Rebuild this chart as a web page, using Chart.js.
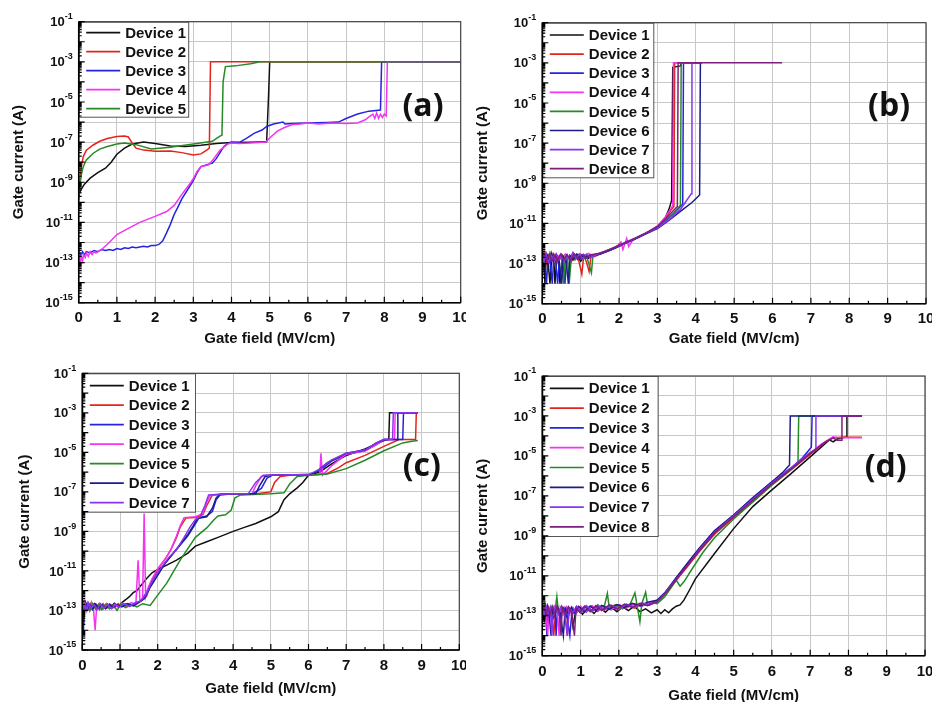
<!DOCTYPE html>
<html>
<head>
<meta charset="utf-8">
<script src="https://cdn.jsdelivr.net/npm/chart.js@4.4.1/dist/chart.umd.min.js"></script>
<style>
html, body { margin: 0; padding: 0; background: #fff; overflow: hidden; }
#wrap { position: relative; width: 932px; height: 702px; overflow: hidden; }
canvas { position: absolute; }
</style>
</head>
<body>
<div id="wrap">
  <canvas id="cA" width="466" height="352" style="left:0;top:0;width:466px;height:352px"></canvas>
  <canvas id="cB" width="466" height="352" style="left:466px;top:0;width:466px;height:352px"></canvas>
  <canvas id="cC" width="466" height="350" style="left:0;top:352px;width:466px;height:350px"></canvas>
  <canvas id="cD" width="466" height="356" style="left:466px;top:352px;width:466px;height:356px"></canvas>
</div>
<script>
// legend names / colours shared by all panels
var deviceNames = ['Device 1', 'Device 2', 'Device 3', 'Device 4', 'Device 5', 'Device 6', 'Device 7', 'Device 8'];
var deviceColors = ['#111111', '#e3241b', '#2424e0', '#f433f4', '#268a26', '#1c1c8a', '#8a33f0', '#7d1e7d'];
var yTickValues = [1e-15, 1e-14, 1e-13, 1e-12, 1e-11, 1e-10, 1e-9, 1e-8, 1e-7, 1e-6, 1e-5, 1e-4, 1e-3, 1e-2, 1e-1];

// (a) gate current vs gate field, [field MV/cm, current A]
var a1 = [[0,2e-10],[0.05,4e-10],[0.15,8e-10],[0.3,1.6e-9],[0.5,3e-9],[0.7,5e-9],[0.85,1e-8],[1.0,2.5e-8],[1.2,5e-8],[1.4,8e-8],[1.7,1e-7],[2.0,8.5e-8],[2.4,6.5e-8],[2.8,6e-8],[3.2,7e-8],[3.6,8.5e-8],[4.0,9.5e-8],[4.5,1e-7],[4.92,1.05e-7],[4.97,2e-5],[5.0,1e-3],[10,1e-3]];
var a2 = [[0,3e-10],[0.04,2e-9],[0.08,8e-9],[0.12,1.9e-8],[0.2,4e-8],[0.38,7.2e-8],[0.55,1.1e-7],[0.75,1.5e-7],[1.0,1.9e-7],[1.2,2e-7],[1.3,1.8e-7],[1.4,9e-8],[1.5,5e-8],[1.7,4e-8],[2.0,3.5e-8],[2.4,3.6e-8],[2.7,3e-8],[3.0,2.3e-8],[3.2,2.6e-8],[3.35,4e-8],[3.42,5e-8],[3.45,1e-3],[10,1e-3]];
var a3 = [[0,1.5e-13],[0.03,3e-13],[0.06,2e-13],[0.1,3.5e-13],[0.15,2.5e-13],[0.2,3.5e-13],[0.3,3e-13],[0.4,4e-13],[0.5,3.5e-13],[0.6,4.5e-13],[0.7,4e-13],[0.8,4.5e-13],[0.9,4e-13],[1.0,5e-13],[1.1,4.5e-13],[1.2,5.5e-13],[1.3,5e-13],[1.4,6e-13],[1.5,5.5e-13],[1.6,6e-13],[1.7,6.5e-13],[1.8,6e-13],[1.9,7e-13],[2.0,7e-13],[2.1,8e-13],[2.2,1.2e-12],[2.3,3e-12],[2.4,8e-12],[2.5,2.5e-11],[2.6,6e-11],[2.7,1.5e-10],[2.8,3e-10],[2.9,6e-10],[3.0,1.2e-9],[3.1,3e-9],[3.2,6e-9],[3.4,8e-9],[3.5,9e-9],[3.6,1.5e-8],[3.7,3e-8],[3.8,6e-8],[3.9,8.5e-8],[4.0,1e-7],[4.2,9.5e-8],[4.4,1.6e-7],[4.6,2.8e-7],[4.8,4e-7],[4.92,6e-7],[5.1,8e-7],[5.35,1e-6],[5.4,8e-7],[5.6,8.5e-7],[6.0,9e-7],[6.5,9.5e-7],[6.8,1e-6],[7.0,1.5e-6],[7.3,2.5e-6],[7.6,3.5e-6],[7.9,4e-6],[7.93,1e-3],[10,1e-3]];
var a4 = [[0,5e-14],[0.02,1.5e-13],[0.04,8e-14],[0.07,2e-13],[0.1,1.2e-13],[0.13,2.5e-13],[0.17,1.8e-13],[0.2,3e-13],[0.25,2e-13],[0.3,3.5e-13],[0.35,2.5e-13],[0.4,3.5e-13],[0.45,3e-13],[0.5,3.5e-13],[0.6,4.5e-13],[0.8,1e-12],[1.0,2.5e-12],[1.3,5e-12],[1.6,1e-11],[2.0,2e-11],[2.3,3.5e-11],[2.5,7e-11],[2.7,2.5e-10],[2.9,8e-10],[3.0,1.5e-9],[3.1,3.5e-9],[3.2,6e-9],[3.4,7.5e-9],[3.5,1.2e-8],[3.7,4e-8],[3.9,8e-8],[4.0,9e-8],[4.2,8.5e-8],[4.5,9e-8],[4.9,1e-7],[5.0,1.6e-7],[5.2,3.5e-7],[5.4,5.5e-7],[5.6,7.5e-7],[5.8,8e-7],[6.0,9e-7],[6.3,8e-7],[6.6,9e-7],[7.0,8.5e-7],[7.3,9e-7],[7.5,1.3e-6],[7.6,1.8e-6],[7.7,2.5e-6],[7.75,1.5e-6],[7.8,2.8e-6],[7.85,1.5e-6],[7.9,2.5e-6],[7.95,1.7e-6],[8.0,2.5e-6],[8.05,2e-6],[8.08,1e-3],[10,1e-3]];
var a5 = [[0,1.3e-10],[0.04,1e-9],[0.08,3e-9],[0.12,6e-9],[0.2,1.3e-8],[0.38,2.8e-8],[0.55,4.5e-8],[0.75,6e-8],[1.0,8e-8],[1.2,9e-8],[1.5,7.5e-8],[1.9,4.5e-8],[2.4,5.5e-8],[3.0,8e-8],[3.5,1.1e-7],[3.6,1.5e-7],[3.7,2e-7],[3.75,2.2e-7],[3.78,1e-4],[3.84,5.8e-4],[4.1,6.3e-4],[4.5,8e-4],[4.75,1e-3],[10,1e-3]];

// (b)
var b1 = [[0,2e-13],[0.04,8e-14],[0.07,1e-14],[0.1,2.5e-13],[0.15,1.2e-13],[0.2,1e-14],[0.25,3e-13],[0.3,1.5e-13],[0.33,1e-14],[0.38,2e-13],[0.43,1e-13],[0.46,1e-14],[0.52,2.5e-13],[0.6,1.2e-13],[0.7,2e-13],[0.8,1.5e-13],[0.9,2.5e-13],[1.0,1.3e-13],[1.1,2.2e-13],[1.2,1.8e-13],[1.3,2.5e-13],[1.5,3e-13],[1.8,5e-13],[2.0,8e-13],[2.2,1.1e-12],[2.5,2e-12],[2.8,4e-12],[3.0,7e-12],[3.2,1.8e-11],[3.3,5e-11],[3.37,1.4e-10],[3.4,6e-4],[3.6,7e-4],[3.62,1e-3],[4.15,1e-3]];
var b2 = [[0,1.5e-13],[0.05,3e-13],[0.1,1e-13],[0.16,2.5e-13],[0.22,1.5e-13],[0.3,3e-13],[0.38,1.2e-13],[0.45,2.5e-13],[0.55,1.5e-13],[0.65,2.8e-13],[0.75,1.2e-13],[0.85,2.5e-13],[0.95,1.4e-13],[1.03,3e-14],[1.08,2.5e-13],[1.15,1.2e-13],[1.22,4e-14],[1.27,2.5e-13],[1.35,2.2e-13],[1.6,3.5e-13],[1.9,6e-13],[2.2,1.1e-12],[2.5,2e-12],[2.8,4e-12],[3.0,7e-12],[3.2,1.7e-11],[3.35,4.5e-11],[3.43,7e-11],[3.45,1e-3],[4.15,1e-3]];
var b3 = [[0,1e-13],[0.03,2.5e-13],[0.06,1.2e-13],[0.11,1e-14],[0.15,2e-13],[0.2,1.5e-13],[0.26,1e-14],[0.3,2.5e-13],[0.35,1.3e-13],[0.4,1e-14],[0.45,2e-13],[0.52,1.5e-13],[0.59,1e-14],[0.64,2.5e-13],[0.72,1.5e-13],[0.82,2.8e-13],[0.92,1.6e-13],[1.02,2.5e-13],[1.12,1.8e-13],[1.25,2.6e-13],[1.5,3e-13],[1.8,5e-13],[2.1,9e-13],[2.4,1.7e-12],[2.7,3.2e-12],[3.0,6.5e-12],[3.2,1.3e-11],[3.4,2.8e-11],[3.55,5.5e-11],[3.66,9e-11],[3.68,1e-3],[4.15,1e-3]];
var b4 = [[0,3e-13],[0.05,1.5e-13],[0.1,3.5e-13],[0.17,1.8e-13],[0.25,3e-13],[0.32,1.5e-13],[0.4,2.5e-13],[0.5,1.7e-13],[0.6,3e-13],[0.7,1.6e-13],[0.8,3.5e-13],[0.9,2e-13],[1.0,3e-13],[1.1,2e-13],[1.2,3.2e-13],[1.35,2.4e-13],[1.5,3.5e-13],[1.7,4e-13],[1.9,6e-13],[2.05,1.2e-12],[2.1,5e-13],[2.2,1.8e-12],[2.25,7e-13],[2.35,1.4e-12],[2.5,2e-12],[2.8,4e-12],[3.0,7.5e-12],[3.2,2e-11],[3.35,5.5e-11],[3.4,8e-11],[3.42,1e-3],[4.15,1e-3]];
var b5 = [[0,2e-13],[0.05,1.2e-13],[0.1,3e-13],[0.15,1.6e-13],[0.2,3.5e-13],[0.27,1.4e-13],[0.35,2.6e-13],[0.42,1.5e-13],[0.5,2.5e-13],[0.55,1e-14],[0.6,2e-13],[0.66,1.5e-13],[0.7,1e-14],[0.76,2.4e-13],[0.85,1.5e-13],[0.95,2.8e-13],[1.05,1.6e-13],[1.15,2.5e-13],[1.28,3.5e-14],[1.32,2.5e-13],[1.6,3.5e-13],[1.9,6e-13],[2.2,1.1e-12],[2.5,2e-12],[2.8,3.8e-12],[3.0,6.5e-12],[3.2,1.4e-11],[3.4,3e-11],[3.6,8e-11],[3.62,1e-3],[4.15,1e-3]];
var b6 = [[0,1.5e-13],[0.04,3e-13],[0.08,1.2e-13],[0.13,2.5e-13],[0.18,1.3e-13],[0.24,3e-13],[0.3,1.5e-13],[0.37,2.8e-13],[0.44,1.2e-13],[0.5,1e-14],[0.55,2.2e-13],[0.62,1.3e-13],[0.68,1e-14],[0.72,2.5e-13],[0.8,1.6e-13],[0.9,3e-13],[1.0,1.8e-13],[1.1,2.6e-13],[1.2,2e-13],[1.5,3e-13],[1.8,5e-13],[2.1,9e-13],[2.4,1.6e-12],[2.7,3e-12],[3.0,5.5e-12],[3.3,1.4e-11],[3.6,4e-11],[3.9,1.1e-10],[4.1,2.6e-10],[4.12,1e-3],[4.15,1e-3]];
var b7 = [[0,2.5e-13],[0.05,1.4e-13],[0.1,2.8e-13],[0.16,1.2e-13],[0.23,2.5e-13],[0.3,1.6e-13],[0.36,3e-13],[0.43,1.5e-13],[0.5,2.7e-13],[0.57,1.3e-13],[0.65,2.5e-13],[0.73,1.5e-13],[0.8,3.5e-13],[0.88,1.8e-13],[0.97,3e-13],[1.05,1.7e-13],[1.15,3e-13],[1.25,2e-13],[1.5,3.2e-13],[1.8,5.5e-13],[2.1,9e-13],[2.4,1.7e-12],[2.7,3.2e-12],[3.0,6e-12],[3.3,1.5e-11],[3.6,5e-11],[3.88,3e-10],[3.9,1e-3],[4.15,1e-3]];
var b8 = [[0,1.8e-13],[0.06,3e-13],[0.12,1.5e-13],[0.18,2.8e-13],[0.25,1.3e-13],[0.33,2.6e-13],[0.4,1.5e-13],[0.48,3e-13],[0.56,1.6e-13],[0.64,2.7e-13],[0.74,1.5e-13],[0.84,3e-13],[0.94,1.7e-13],[1.04,2.8e-13],[1.14,1.9e-13],[1.24,2.7e-13],[1.5,3.3e-13],[1.8,5.5e-13],[2.1,1e-12],[2.4,1.8e-12],[2.7,3.4e-12],[3.0,7e-12],[3.2,1.6e-11],[3.4,4e-11],[3.52,7e-11],[3.54,1e-3],[6.25,1e-3]];

// (c)
var c1 = [[0,2e-13],[0.04,1e-13],[0.08,2.5e-13],[0.13,1.2e-13],[0.18,2e-13],[0.25,1.3e-13],[0.32,2.2e-13],[0.4,1.4e-13],[0.48,2e-13],[0.56,1.3e-13],[0.65,2.2e-13],[0.75,1.5e-13],[0.85,2.3e-13],[0.95,1.6e-13],[1.05,2.5e-13],[1.15,3.5e-13],[1.25,5e-13],[1.35,8e-13],[1.45,1e-12],[1.55,1.8e-12],[1.7,4e-12],[1.85,8e-12],[2.0,1.2e-11],[2.2,1.8e-11],[2.5,3.5e-11],[2.8,8e-11],[3.0,1.8e-10],[3.3,3e-10],[3.6,5e-10],[4.0,1e-9],[4.3,1.6e-9],[4.6,2.5e-9],[5.0,5.5e-9],[5.2,1e-8],[5.35,4e-8],[5.5,8e-8],[5.7,1.6e-7],[5.85,3e-7],[6.0,7e-7],[6.3,1e-6],[6.6,2.5e-6],[7.0,7e-6],[7.5,1.5e-5],[8.0,4e-5],[8.13,4.5e-5],[8.15,1e-3],[8.9,1e-3]];
var c2 = [[0,1.5e-13],[0.03,2.5e-13],[0.07,1e-13],[0.12,2e-13],[0.17,1.2e-13],[0.23,2.3e-13],[0.3,1.3e-13],[0.38,2e-13],[0.46,1.1e-13],[0.55,2.2e-13],[0.65,1.3e-13],[0.75,2e-13],[0.85,1.4e-13],[0.95,2.2e-13],[1.05,1.6e-13],[1.15,2.2e-13],[1.3,1.8e-13],[1.45,2.5e-13],[1.55,3e-13],[1.7,5e-13],[1.85,3e-12],[2.0,1.2e-11],[2.2,4e-11],[2.35,1.2e-10],[2.5,5e-10],[2.6,1.7e-9],[2.75,4.8e-9],[3.0,5e-9],[3.2,7e-9],[3.3,2e-8],[3.45,7e-8],[4.0,8e-8],[4.5,7.5e-8],[5.0,1e-7],[5.1,3e-7],[5.25,6e-7],[5.5,7e-7],[6.0,7e-7],[6.5,8.5e-7],[6.8,1.7e-6],[7.0,3e-6],[7.5,7e-6],[8.0,2e-5],[8.4,4.5e-5],[8.84,4.5e-5],[8.86,1e-3],[8.9,1e-3]];
var c3 = [[0,1e-13],[0.03,1e-14],[0.06,2e-13],[0.1,1.2e-13],[0.15,2.5e-13],[0.22,1.3e-13],[0.3,2e-13],[0.38,1.1e-13],[0.47,2.2e-13],[0.56,1.3e-13],[0.66,2.1e-13],[0.76,1.4e-13],[0.86,2.2e-13],[0.96,1.5e-13],[1.1,2e-13],[1.25,1.6e-13],[1.4,2.4e-13],[1.55,3e-13],[1.7,8e-13],[1.85,3e-12],[2.0,8e-12],[2.2,2.5e-11],[2.5,1.2e-10],[2.8,6e-10],[2.95,1.7e-9],[3.1,5e-9],[3.3,6e-9],[3.45,1e-8],[3.55,4e-8],[3.65,7e-8],[4.0,8e-8],[4.5,8e-8],[4.75,1.5e-7],[4.9,5e-7],[5.05,7e-7],[6.0,7e-7],[6.3,1.2e-6],[6.6,3.5e-6],[7.0,8e-6],[7.5,1.2e-5],[7.8,2.5e-5],[8.0,4.5e-5],[8.5,4.5e-5],[8.52,1e-3],[8.9,1e-3]];
var c4 = [[0,2e-13],[0.03,8e-14],[0.06,2.5e-13],[0.1,1.2e-13],[0.15,2.2e-13],[0.2,1e-13],[0.25,2.5e-13],[0.3,1e-13],[0.34,1e-14],[0.38,1.5e-13],[0.45,2.3e-13],[0.55,1.2e-13],[0.65,2.2e-13],[0.75,1.3e-13],[0.85,2e-13],[0.95,1.5e-13],[1.05,2.3e-13],[1.15,1.6e-13],[1.3,2.5e-13],[1.42,2e-13],[1.48,3.5e-11],[1.53,3e-13],[1.6,4e-13],[1.64,8e-9],[1.68,5e-13],[1.75,1.5e-12],[1.85,4e-12],[2.0,1.3e-11],[2.2,4e-11],[2.35,1.2e-10],[2.5,6e-10],[2.6,2e-9],[2.7,5e-9],[3.0,5.5e-9],[3.2,8e-9],[3.3,3e-8],[3.4,7e-8],[3.8,8e-8],[4.5,8e-8],[4.6,2e-7],[4.75,6e-7],[4.9,7e-7],[6.0,7e-7],[6.3,7.5e-7],[6.33,9e-6],[6.37,7e-7],[6.6,2e-6],[7.0,8e-6],[7.5,1.2e-5],[7.8,2.5e-5],[8.0,4.5e-5],[8.28,4.5e-5],[8.3,1e-3],[8.9,1e-3]];
var c5 = [[0,1.5e-13],[0.04,2.5e-13],[0.08,1.2e-13],[0.13,2e-13],[0.2,1e-13],[0.27,2.2e-13],[0.35,1.2e-13],[0.43,2e-13],[0.52,1.1e-13],[0.62,2e-13],[0.72,1.2e-13],[0.82,1.9e-13],[0.92,1e-13],[1.02,2e-13],[1.15,1.4e-13],[1.3,2e-13],[1.45,1.5e-13],[1.6,2.2e-13],[1.8,1.8e-13],[2.0,6e-13],[2.24,2.4e-12],[2.6,3.6e-11],[3.0,5e-10],[3.3,1.5e-9],[3.5,4e-9],[3.6,6e-9],[3.8,7e-9],[3.95,1.2e-8],[4.05,5e-8],[4.2,7e-8],[5.0,8e-8],[5.35,9e-8],[5.5,2.5e-7],[5.7,6e-7],[6.0,7e-7],[6.5,8e-7],[7.0,1.5e-6],[7.5,4e-6],[8.0,1.2e-5],[8.5,3e-5],[8.7,3.5e-5],[8.9,4e-5]];
var c6 = [[0,1e-13],[0.02,1e-14],[0.05,1.5e-13],[0.09,2.5e-13],[0.14,1.2e-13],[0.2,2e-13],[0.27,1.1e-13],[0.35,2.1e-13],[0.43,1.3e-13],[0.52,2e-13],[0.62,1.2e-13],[0.72,2.1e-13],[0.82,1.4e-13],[0.92,2e-13],[1.05,1.5e-13],[1.2,2.2e-13],[1.35,1.7e-13],[1.5,2.5e-13],[1.65,4e-13],[1.8,1.5e-12],[2.0,6e-12],[2.2,2.5e-11],[2.5,1.3e-10],[2.8,7e-10],[2.95,2e-9],[3.05,4.5e-9],[3.3,5.5e-9],[3.45,1.5e-8],[3.55,5e-8],[3.65,7.5e-8],[4.0,8e-8],[4.6,8e-8],[4.7,2e-7],[4.85,6e-7],[5.0,7e-7],[6.0,7.5e-7],[6.2,1e-6],[6.5,3e-6],[7.0,9e-6],[7.5,1.3e-5],[7.8,3e-5],[8.0,4.5e-5],[8.35,4.5e-5],[8.37,1e-3],[8.9,1e-3]];
var c7 = [[0,2.5e-13],[0.04,1.2e-13],[0.08,2.2e-13],[0.12,1e-13],[0.17,2.3e-13],[0.24,1.3e-13],[0.31,2e-13],[0.39,1.1e-13],[0.48,2.1e-13],[0.58,1.3e-13],[0.68,2e-13],[0.78,1.2e-13],[0.88,2e-13],[0.98,1.5e-13],[1.1,2.2e-13],[1.25,1.6e-13],[1.4,2.4e-13],[1.55,3e-13],[1.7,7e-13],[1.85,3e-12],[2.06,1.2e-11],[2.3,5e-11],[2.5,1.2e-10],[2.7,5e-10],[2.86,1.7e-9],[3.0,4e-9],[3.12,5.5e-9],[3.25,2e-8],[3.35,7e-8],[4.0,8e-8],[4.4,8e-8],[4.6,3e-7],[4.8,7e-7],[6.0,7.5e-7],[6.3,1.4e-6],[6.6,4e-6],[7.0,9e-6],[7.5,1.3e-5],[7.8,3e-5],[8.0,4.5e-5],[8.23,4.5e-5],[8.25,1e-3],[8.9,1e-3]];

// (d)
var d1 = [[0,1.5e-13],[0.05,6e-14],[0.1,2e-13],[0.16,1e-13],[0.22,2.5e-13],[0.3,8e-14],[0.38,2e-13],[0.46,1e-13],[0.55,2.2e-13],[0.65,8e-14],[0.75,2e-13],[0.8,3e-14],[0.85,1e-13],[0.95,2.5e-13],[1.05,1.2e-13],[1.2,2.5e-13],[1.35,1.3e-13],[1.5,2.6e-13],[1.65,1.5e-13],[1.8,2.8e-13],[1.95,1.6e-13],[2.1,2.8e-13],[2.25,1.8e-13],[2.4,3e-13],[2.55,1.6e-13],[2.7,2.2e-13],[2.85,1.4e-13],[3.0,2e-13],[3.1,1.3e-13],[3.2,2e-13],[3.3,1.4e-13],[3.4,2.2e-13],[3.5,3e-13],[3.6,3.5e-13],[3.7,6e-13],[3.85,2e-12],[4.0,7e-12],[4.5,1.3e-10],[5.0,2.3e-9],[5.5,2.9e-8],[6.0,2e-7],[6.5,1.3e-6],[7.0,9e-6],[7.5,6.3e-5],[7.6,5e-5],[7.7,7e-5],[7.9,8.5e-5],[7.94,8.5e-5],[7.96,1e-3],[8.35,1e-3]];
var d2 = [[0,1e-13],[0.04,2.5e-13],[0.08,1e-13],[0.13,3e-13],[0.18,1.2e-13],[0.24,2.5e-13],[0.3,1e-14],[0.35,2e-13],[0.42,1.3e-13],[0.5,2.6e-13],[0.6,1.1e-13],[0.65,1e-14],[0.7,2.5e-13],[0.8,1.3e-13],[0.9,2.8e-13],[1.0,1.4e-13],[1.15,3e-13],[1.3,1.6e-13],[1.45,3e-13],[1.6,1.8e-13],[1.8,3e-13],[2.0,2e-13],[2.2,3.5e-13],[2.4,2.4e-13],[2.6,4e-13],[2.8,3.5e-13],[3.0,5e-13],[3.2,1.2e-12],[3.5,6e-12],[3.8,3e-11],[4.1,1.6e-10],[4.5,1.2e-9],[5.0,8e-9],[5.5,5e-8],[6.0,3.5e-7],[6.5,2e-6],[7.0,1.2e-5],[7.4,5e-5],[7.6,8e-5],[7.8,8.5e-5],[8.35,8.5e-5]];
var d3 = [[0,2e-13],[0.04,1e-13],[0.08,2.8e-13],[0.12,1e-14],[0.16,2e-13],[0.22,1.1e-13],[0.28,2.6e-13],[0.34,1.2e-13],[0.36,1e-14],[0.4,2.4e-13],[0.48,1e-13],[0.56,2.5e-13],[0.64,1.2e-13],[0.72,1e-14],[0.78,2.2e-13],[0.88,1.3e-13],[1.0,2.8e-13],[1.15,1.5e-13],[1.3,3e-13],[1.45,1.7e-13],[1.6,3.2e-13],[1.8,2e-13],[2.0,3.5e-13],[2.2,2.5e-13],[2.4,4e-13],[2.6,3e-13],[2.8,4.5e-13],[3.0,6e-13],[3.2,1.3e-12],[3.5,8e-12],[3.8,4e-11],[4.1,2.2e-10],[4.5,1.8e-9],[5.0,1.1e-8],[5.5,8e-8],[6.0,5e-7],[6.5,2.5e-6],[6.8,8e-6],[7.03,2.7e-5],[7.05,1e-3],[8.35,1e-3]];
var d4 = [[0,1.2e-13],[0.05,3e-13],[0.1,1.5e-13],[0.14,1e-14],[0.18,2.5e-13],[0.25,1.2e-13],[0.32,3e-13],[0.4,1.4e-13],[0.44,1e-14],[0.47,2.6e-13],[0.55,1.1e-13],[0.63,2.8e-13],[0.72,1.3e-13],[0.8,2.6e-13],[0.9,1.4e-13],[1.0,3e-13],[1.15,1.6e-13],[1.3,3.2e-13],[1.45,1.8e-13],[1.6,3e-13],[1.8,2e-13],[2.0,3.6e-13],[2.2,2.4e-13],[2.4,4e-13],[2.6,3.2e-13],[2.8,4.2e-13],[3.0,5.5e-13],[3.2,1.4e-12],[3.5,7e-12],[3.8,4e-11],[4.1,2e-10],[4.5,1.5e-9],[5.0,1e-8],[5.5,6e-8],[6.0,4e-7],[6.5,2.2e-6],[7.0,1.4e-5],[7.3,4e-5],[7.5,7e-5],[7.6,9e-5],[7.8,8e-5],[8.35,8e-5]];
var d5 = [[0,1.5e-13],[0.05,3.5e-13],[0.1,1.2e-13],[0.15,2.5e-13],[0.2,1e-13],[0.27,3e-13],[0.33,1.5e-13],[0.38,9e-13],[0.42,1.6e-13],[0.5,2.8e-13],[0.6,1.2e-13],[0.7,2.5e-13],[0.8,1.3e-13],[0.9,2.7e-13],[1.0,1.5e-13],[1.15,3e-13],[1.3,1.6e-13],[1.45,3.5e-13],[1.6,2e-13],[1.7,1.3e-12],[1.75,2.5e-13],[1.9,3.5e-13],[2.1,2.2e-13],[2.3,4e-13],[2.42,1.4e-12],[2.48,3e-13],[2.55,5e-14],[2.6,4e-13],[2.7,1.5e-12],[2.75,3.5e-13],[2.9,4.5e-13],[3.0,4e-13],[3.2,9e-13],[3.5,6e-12],[3.6,3e-12],[3.7,5e-12],[3.9,2e-11],[4.2,1.5e-10],[4.5,8e-10],[5.0,7e-9],[5.5,5e-8],[6.0,3.5e-7],[6.4,1.5e-6],[6.68,4e-6],[6.7,1e-3],[8.35,1e-3]];
var d6 = [[0,1e-13],[0.04,2.5e-13],[0.08,1.2e-13],[0.13,3e-13],[0.18,1e-13],[0.23,1e-14],[0.27,2.2e-13],[0.33,1.2e-13],[0.4,2.8e-13],[0.47,1.3e-13],[0.55,1e-14],[0.6,2.4e-13],[0.68,1.2e-13],[0.76,2.7e-13],[0.85,1.3e-13],[0.95,2.9e-13],[1.1,1.6e-13],[1.25,3.1e-13],[1.4,1.8e-13],[1.55,3.3e-13],[1.75,2.1e-13],[1.95,3.6e-13],[2.15,2.6e-13],[2.35,4.2e-13],[2.55,3.1e-13],[2.75,4.8e-13],[3.0,6e-13],[3.2,1.4e-12],[3.5,8e-12],[3.8,4.5e-11],[4.1,2.4e-10],[4.5,1.8e-9],[5.0,1.1e-8],[5.5,8e-8],[6.0,5e-7],[6.3,1.6e-6],[6.46,3.5e-6],[6.48,1e-3],[8.35,1e-3]];
var d7 = [[0,2.5e-13],[0.05,1.1e-13],[0.1,2.8e-13],[0.15,1.3e-13],[0.21,2.6e-13],[0.25,1e-14],[0.28,1e-13],[0.35,2.7e-13],[0.42,1.2e-13],[0.5,2.9e-13],[0.58,1.3e-13],[0.66,1e-14],[0.7,2.4e-13],[0.8,1.4e-13],[0.9,3e-13],[1.0,1.5e-13],[1.15,3.2e-13],[1.3,1.7e-13],[1.45,3.3e-13],[1.6,1.9e-13],[1.8,3.4e-13],[2.0,2.2e-13],[2.2,3.8e-13],[2.4,2.7e-13],[2.6,4.4e-13],[2.8,3.5e-13],[3.0,5e-13],[3.2,1.3e-12],[3.5,7e-12],[3.8,3.5e-11],[4.1,2e-10],[4.5,1.5e-9],[5.0,1e-8],[5.5,7e-8],[6.0,4.5e-7],[6.5,2.5e-6],[7.0,1.5e-5],[7.13,2e-5],[7.15,1e-3],[8.35,1e-3]];
var d8 = [[0,1.8e-13],[0.05,3e-13],[0.1,1.3e-13],[0.15,2.7e-13],[0.2,1.2e-13],[0.26,2.5e-13],[0.32,1.1e-13],[0.38,2.9e-13],[0.45,1.3e-13],[0.49,1e-14],[0.52,2.6e-13],[0.6,1.2e-13],[0.68,2.8e-13],[0.77,1.4e-13],[0.84,1e-14],[0.88,2.5e-13],[0.98,1.5e-13],[1.1,3e-13],[1.25,1.6e-13],[1.4,3.2e-13],[1.55,1.8e-13],[1.75,3.5e-13],[1.95,2.2e-13],[2.15,3.8e-13],[2.35,2.6e-13],[2.55,4.2e-13],[2.75,3.2e-13],[2.9,4.5e-13],[3.0,5e-13],[3.2,1.2e-12],[3.5,6.5e-12],[3.8,3.5e-11],[4.1,1.8e-10],[4.5,1.4e-9],[5.0,9e-9],[5.5,6e-8],[6.0,4e-7],[6.5,2.2e-6],[7.0,1.3e-5],[7.4,5e-5],[7.6,8e-5],[7.7,6e-5],[7.81,6e-5],[7.83,1e-3],[8.35,1e-3]];

var fam = "'Liberation Sans', Arial, sans-serif";

// frame, inward ticks, superscript tick labels, inset legend and panel letter
var panelDecor = {
    id: 'panelDecor',
    afterDraw: function(chart, args, o) {
        var ctx = chart.ctx, a = chart.chartArea, ys = chart.scales.y, xs = chart.scales.x;
        ctx.save();

        // legend box
        var n = chart.data.datasets.length;
        ctx.fillStyle = '#fff';
        ctx.fillRect(a.left, a.top, o.legW, o.legH);
        ctx.strokeStyle = '#555';
        ctx.lineWidth = 1;
        ctx.strokeRect(a.left + 0.5, a.top + 0.5, o.legW, o.legH);
        ctx.font = 'bold 15px ' + fam;
        ctx.textBaseline = 'middle';
        ctx.textAlign = 'left';
        for (var i = 0; i < n; i++) {
            var ds = chart.data.datasets[i];
            var ly = a.top + o.legFirst + i * o.legRow;
            ctx.strokeStyle = ds.borderColor;
            ctx.lineWidth = 1.7;
            ctx.beginPath();
            ctx.moveTo(a.left + 7.5, ly);
            ctx.lineTo(a.left + 41.5, ly);
            ctx.stroke();
            ctx.fillStyle = '#111';
            ctx.fillText(ds.label, a.left + 46.5, ly + 1);
        }

        // frame
        ctx.strokeStyle = '#444';
        ctx.lineWidth = 1.2;
        ctx.strokeRect(a.left, a.top, a.right - a.left, a.bottom - a.top);
        ctx.strokeStyle = '#000';
        ctx.lineWidth = 1.5;
        ctx.beginPath();
        ctx.moveTo(a.left, a.top);
        ctx.lineTo(a.left, a.bottom);
        ctx.lineTo(a.right, a.bottom);
        ctx.stroke();

        // y ticks
        ctx.lineWidth = 1.2;
        ctx.beginPath();
        yTickValues.forEach(function(v, k) {
            var py = ys.getPixelForValue(v);
            ctx.moveTo(a.left, py); ctx.lineTo(a.left + 6, py);
            if (k < yTickValues.length - 1) {
                for (var m = 2; m <= 9; m++) {
                    var pm = ys.getPixelForValue(v * m);
                    ctx.moveTo(a.left, pm); ctx.lineTo(a.left + 3, pm);
                }
            }
        });
        // x ticks
        for (var t = 0; t <= 20; t++) {
            var px = xs.getPixelForValue(t / 2);
            ctx.moveTo(px, a.bottom); ctx.lineTo(px, a.bottom - (t % 2 === 0 ? 6 : 3));
        }
        ctx.stroke();

        // y labels 10^n
        ctx.fillStyle = '#111';
        ctx.textAlign = 'right';
        yTickValues.forEach(function(v) {
            var e = Math.round(Math.log10(v));
            if (e % 2 === 0) return;
            var py = ys.getPixelForValue(v);
            var sup = String(e);
            ctx.font = 'bold 9px ' + fam;
            var sw = ctx.measureText(sup).width;
            var xr = a.left - 6;
            ctx.fillText(sup, xr, py - 5);
            ctx.font = 'bold 13px ' + fam;
            ctx.fillText('10', xr - sw, py + 1);
        });

        // panel letter
        ctx.font = 'bold 32px "Open Sans", ' + fam;
        ctx.textAlign = 'center';
        ctx.fillText(o.letter, o.lx, o.ly);
        ctx.restore();
    }
};

function toPoints(arr) {
    return arr.map(function(p) { return { x: p[0], y: p[1] }; });
}

function makePanel(id, series, opt) {
    var datasets = series.map(function(s, i) {
        return {
            label: deviceNames[i],
            data: toPoints(s),
            borderColor: deviceColors[i],
            borderWidth: 1.5,
            pointRadius: 0,
            tension: 0,
            order: series.length - i
        };
    });
    var titleFont = { size: 15, weight: 'bold', family: fam };
    return new Chart(document.getElementById(id), {
        type: 'line',
        data: { datasets: datasets },
        options: {
            responsive: false,
            animation: false,
            events: [],
            layout: { padding: { left: 0, right: opt.padR, top: opt.padT, bottom: 0 } },
            plugins: {
                legend: { display: false },
                tooltip: { enabled: false },
                panelDecor: opt.decor
            },
            scales: {
                x: {
                    type: 'linear', min: 0, max: 10,
                    border: { display: false },
                    grid: { color: '#c8c8c8', lineWidth: 1, drawTicks: false },
                    ticks: { stepSize: 1, padding: opt.xTickPad, color: '#111', font: { size: 15, weight: 'bold', family: fam } },
                    title: { display: true, text: 'Gate field (MV/cm)', color: '#111', font: titleFont, padding: { top: 0, bottom: opt.xTitlePad } },
                    afterFit: function(s) { s.height = opt.xH; s.paddingLeft = 0; s.paddingRight = 0; }
                },
                y: {
                    type: 'logarithmic', min: 1e-15, max: 1e-1,
                    border: { display: false },
                    grid: { color: '#c8c8c8', lineWidth: 1, drawTicks: false },
                    ticks: { callback: function() { return ''; } },
                    afterBuildTicks: function(s) { s.ticks = yTickValues.map(function(v) { return { value: v }; }); },
                    title: { display: true, text: 'Gate current (A)', color: '#111', font: titleFont, padding: { top: opt.yTitlePad, bottom: 0 } },
                    afterFit: function(s) { s.width = opt.yW; s.paddingTop = 0; s.paddingBottom = 0; }
                }
            }
        },
        plugins: [panelDecor]
    });
}

makePanel('cA', [a1, a2, a3, a4, a5], {
    padT: 21.7, padR: 5.3, yW: 78.7, xH: 49.3, xTickPad: 6.5, xTitlePad: 4, yTitlePad: 10,
    decor: { letter: '(a)', lx: 423, ly: 107, legW: 109.5, legH: 95, legFirst: 11, legRow: 19 }
});
makePanel('cB', [b1, b2, b3, b4, b5, b6, b7, b8], {
    padT: 22.7, padR: 6, yW: 76.3, xH: 48.3, xTickPad: 6.5, xTitlePad: 4, yTitlePad: 8.3,
    decor: { letter: '(b)', lx: 423, ly: 107, legW: 111, legH: 154.6, legFirst: 12.3, legRow: 19.1 }
});
makePanel('cC', [c1, c2, c3, c4, c5, c6, c7], {
    padT: 21.3, padR: 6.7, yW: 82.3, xH: 52, xTickPad: 7, xTitlePad: 3.7, yTitlePad: 16,
    decor: { letter: '(c)', lx: 421.7, ly: 114.7, legW: 112.7, legH: 138.4, legFirst: 12.4, legRow: 19.5 }
});
makePanel('cD', [d1, d2, d3, d4, d5, d6, d7, d8], {
    padT: 24, padR: 7, yW: 76.3, xH: 52.3, xTickPad: 7.5, xTitlePad: 3, yTitlePad: 8.3,
    decor: { letter: '(d)', lx: 419.7, ly: 116, legW: 115.4, legH: 160, legFirst: 12.3, legRow: 19.8 }
});
</script>
</body>
</html>
